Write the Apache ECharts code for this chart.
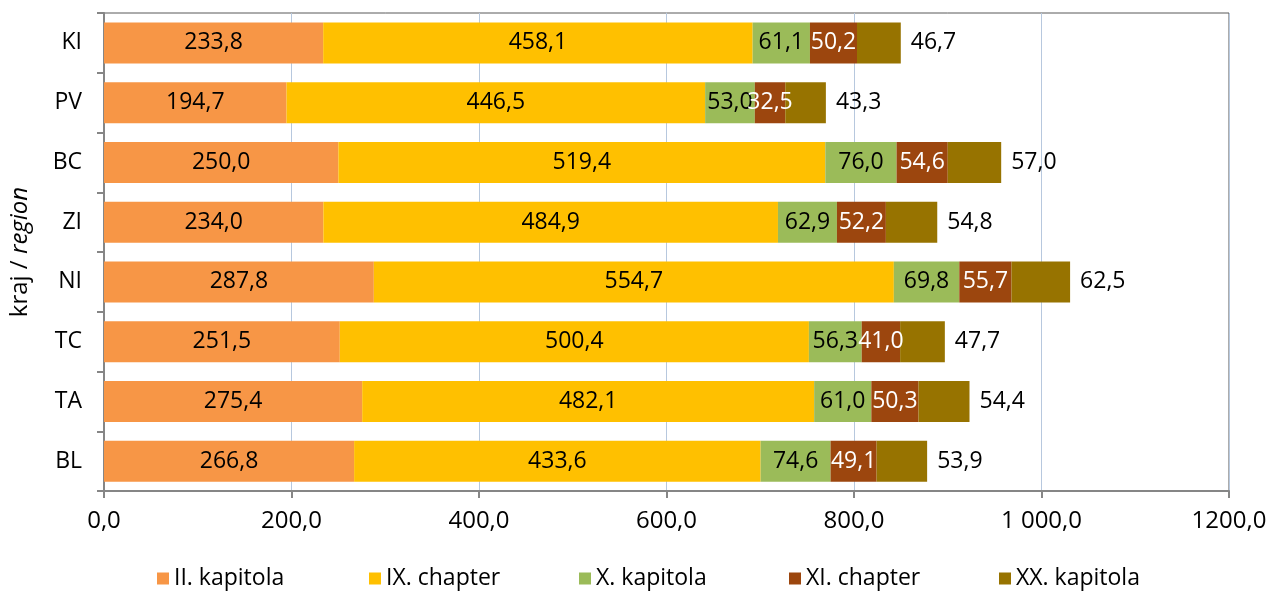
<!DOCTYPE html>
<html>
<head>
<meta charset="utf-8">
<script src="https://cdn.jsdelivr.net/npm/echarts@6/dist/echarts.min.js"></script>
<style>
  html, body { margin: 0; padding: 0; background: #fff; }
  #chart { width: 1271px; height: 591px; }
</style>
</head>
<body>
<div id="chart"></div>
<script>
// kraje, odshora dolu
var regions = ['KI', 'PV', 'BC', 'ZI', 'NI', 'TC', 'TA', 'BL'];

var seriesNames = ['II. kapitola', 'IX. chapter', 'X. kapitola', 'XI. chapter', 'XX. kapitola'];
var kap2  = [233.8, 194.7, 250.0, 234.0, 287.8, 251.5, 275.4, 266.8];
var kap9  = [458.1, 446.5, 519.4, 484.9, 554.7, 500.4, 482.1, 433.6];
var kap10 = [61.1, 53.0, 76.0, 62.9, 69.8, 56.3, 61.0, 74.6];
var kap11 = [50.2, 32.5, 54.6, 52.2, 55.7, 41.0, 50.3, 49.1];
var kap20 = [46.7, 43.3, 57.0, 54.8, 62.5, 47.7, 54.4, 53.9];

var xTickLabels = ['0,0', '200,0', '400,0', '600,0', '800,0', '1 000,0', '1200,0'];

var colors = ['#F79646', '#FFC000', '#9BBB59', '#9C460E', '#977300'];
var font = 'Open Sans';
var fs = 23;

function fmt(v) {
    return v.toFixed(1).replace('.', ',');
}

var chart = echarts.init(document.getElementById('chart'));

var allData = [kap2, kap9, kap10, kap11, kap20];
var series = allData.map(function (d, i) {
    var label = {
        show: true,
        position: 'inside',
        color: i === 3 ? '#fff' : '#000',
        fontFamily: font,
        fontSize: fs,
        formatter: function (p) { return fmt(p.value); }
    };
    if (i === 4) {
        label.position = 'right';
        label.distance = 10;
    }
    return {
        name: seriesNames[i],
        type: 'bar',
        stack: 'total',
        data: d,
        barWidth: 41,
        itemStyle: { color: colors[i] },
        label: label
    };
});

// legenda: kazda polozka zvlast, at jsou rozestupy stejne jako v Excelu
var legendLeft = [157, 369, 579, 789, 999];
var legends = seriesNames.map(function (n, i) {
    return {
        left: legendLeft[i], top: 567,
        itemWidth: 12, itemHeight: 12, itemGap: 0,
        padding: 0,
        icon: 'rect',
        textStyle: { fontFamily: font, fontSize: fs, color: '#000' },
        data: [n]
    };
});

chart.setOption({
    animation: false,
    color: colors,
    grid: {
        left: 104, right: 42, top: 13, bottom: 100,
        show: true, borderColor: '#595959', borderWidth: 1
    },
    legend: legends,
    xAxis: {
        type: 'value',
        min: 0, max: 1200, interval: 200,
        axisLine: { show: true, lineStyle: { color: '#868686', width: 2 } },
        axisTick: { show: true, length: 7, lineStyle: { color: '#868686', width: 2 } },
        splitLine: { show: true, lineStyle: { color: '#B7C8DE', width: 1 } },
        axisLabel: {
            margin: 18,
            fontFamily: font, fontSize: 24, color: '#000',
            formatter: function (v) { return xTickLabels[Math.round(v / 200)]; }
        }
    },
    yAxis: {
        type: 'category',
        inverse: true,
        data: regions,
        axisLine: { show: true, lineStyle: { color: '#868686', width: 2 } },
        axisTick: { show: true, length: 7, lineStyle: { color: '#868686', width: 2 } },
        axisLabel: { margin: 22, fontFamily: font, fontSize: fs, color: '#000' },
        name: '{a|kraj / }{b|region}',
        nameLocation: 'middle',
        nameGap: 72,
        nameRotate: 90,
        nameTextStyle: {
            rich: {
                a: { fontFamily: font, fontSize: 24, color: '#000' },
                b: { fontFamily: font, fontSize: 24, color: '#000', fontStyle: 'italic' }
            }
        }
    },
    series: series
});
</script>
</body>
</html>
